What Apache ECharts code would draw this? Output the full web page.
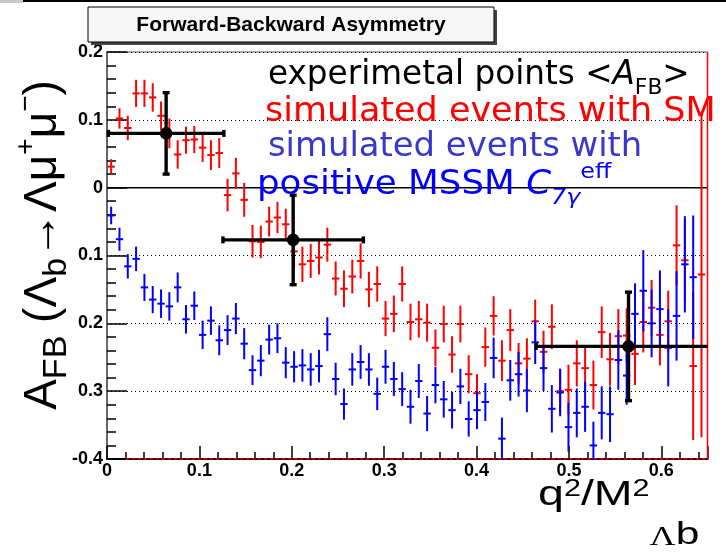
<!DOCTYPE html>
<html>
<head>
<meta charset="utf-8">
<script src="https://cdn.jsdelivr.net/npm/echarts@6/dist/echarts.min.js"></script>
<style>
  html, body { margin: 0; padding: 0; background: #fff; }
  #chart { width: 726px; height: 559px; }
</style>
</head>
<body>
<div id="chart"></div>
<script>
// Bin centres of q^2/M^2 (bin width 0.009)
const q2Bins = [
  0.0045, 0.0135, 0.0225, 0.0315, 0.0405, 0.0495, 0.0585, 0.0675, 0.0765, 0.0855,
  0.0945, 0.1035, 0.1125, 0.1215, 0.1305, 0.1395, 0.1485, 0.1575, 0.1665, 0.1755,
  0.1845, 0.1935, 0.2025, 0.2115, 0.2205, 0.2295, 0.2385, 0.2475, 0.2565, 0.2655,
  0.2745, 0.2835, 0.2925, 0.3015, 0.3105, 0.3195, 0.3285, 0.3375, 0.3465, 0.3555,
  0.3645, 0.3735, 0.3825, 0.3915, 0.4005, 0.4095, 0.4185, 0.4275, 0.4365, 0.4455,
  0.4545, 0.4635, 0.4725, 0.4815, 0.4905, 0.4995, 0.5085, 0.5175, 0.5265, 0.5355,
  0.5445, 0.5535, 0.5625, 0.5715, 0.5805, 0.5895, 0.5985, 0.6075, 0.6165, 0.6255,
  0.6345, 0.6435
];
const binHalfWidth = 0.004;

// Standard Model simulation: A_FB per bin and its error
const smValues = [
  0.031, 0.102, 0.088, 0.139, 0.139, 0.133, 0.106, 0.080, 0.049, 0.070,
  0.071, 0.059, 0.048, 0.051, -0.011, 0.021, -0.018, -0.079, -0.080, -0.050,
  -0.044, -0.054, -0.094, -0.113, -0.108, -0.103, -0.084, -0.134, -0.149, -0.131,
  -0.108, -0.150, -0.142, -0.193, -0.186, -0.142, -0.198, -0.194, -0.199, -0.236,
  -0.201, -0.246, -0.201, -0.275, -0.303, -0.235, -0.189, -0.255, -0.210, -0.259,
  -0.252, -0.197, -0.242, -0.205, -0.300, -0.298, -0.259, -0.266, -0.291, -0.213,
  -0.253, -0.219, -0.218, -0.245, -0.198, -0.177, -0.217, -0.197, -0.085, -0.107,
  -0.263, -0.128
];
const smErrors = [
  0.011, 0.015, 0.018, 0.020, 0.020, 0.021, 0.021, 0.022, 0.021, 0.020,
  0.020, 0.021, 0.022, 0.022, 0.024, 0.023, 0.025, 0.024, 0.024, 0.022,
  0.023, 0.023, 0.025, 0.026, 0.025, 0.025, 0.025, 0.025, 0.027, 0.025,
  0.026, 0.026, 0.026, 0.026, 0.027, 0.026, 0.027, 0.027, 0.028, 0.027,
  0.027, 0.027, 0.027, 0.028, 0.028, 0.029, 0.029, 0.030, 0.031, 0.030,
  0.030, 0.032, 0.031, 0.033, 0.033, 0.037, 0.034, 0.034, 0.036, 0.038,
  0.039, 0.040, 0.040, 0.046, 0.045, 0.041, 0.045, 0.045, 0.059, 0.060,
  0.109, 0.240
];

// MSSM simulation with positive C7gamma^eff: A_FB per bin and its error
const mssmValues = [
  -0.041, -0.076, -0.116, -0.105, -0.147, -0.165, -0.171, -0.175, -0.147, -0.194,
  -0.174, -0.217, -0.196, -0.225, -0.210, -0.193, -0.230, -0.269, -0.255, -0.224,
  -0.222, -0.258, -0.264, -0.262, -0.268, -0.263, -0.216, -0.282, -0.319, -0.268,
  -0.257, -0.268, -0.304, -0.264, -0.282, -0.297, -0.323, -0.285, -0.333, -0.291,
  -0.312, -0.328, -0.293, -0.341, -0.328, -0.316, -0.251, -0.370, -0.284, -0.275,
  -0.299, -0.228, -0.266, -0.326, -0.302, -0.353, -0.332, -0.323, -0.380, -0.332,
  -0.334, -0.254, -0.277, -0.186, -0.152, -0.200, -0.179, -0.236, -0.189, -0.113,
  -0.132, null
];
const mssmErrors = [
  0.013, 0.017, 0.018, 0.018, 0.020, 0.020, 0.021, 0.021, 0.022, 0.021,
  0.021, 0.021, 0.021, 0.022, 0.022, 0.023, 0.023, 0.022, 0.023, 0.022,
  0.022, 0.023, 0.023, 0.024, 0.024, 0.024, 0.025, 0.024, 0.023, 0.024,
  0.025, 0.024, 0.024, 0.025, 0.025, 0.025, 0.025, 0.025, 0.026, 0.027,
  0.027, 0.027, 0.026, 0.026, 0.028, 0.028, 0.030, 0.031, 0.030, 0.033,
  0.032, 0.032, 0.034, 0.035, 0.035, 0.036, 0.036, 0.037, 0.035, 0.039,
  0.041, 0.044, 0.043, 0.045, 0.060, 0.050, 0.057, 0.057, 0.066, 0.071,
  0.091, null
];

// Experimental points <A_FB> with bin half-widths and errors
const expX = [0.064, 0.2015, 0.5645];
const expXErr = [0.0625, 0.076, 0.100];
const expY = [0.080, -0.077, -0.234];
const expYErr = [0.060, 0.066, 0.080];

// Tick labels as printed on the axes
const xTickText = ['0', '0.1', '0.2', '0.3', '0.4', '0.5', '0.6'];
const yTickText = ['-0.4', '0.3', '0.2', '0.1', '0', '0.1', '0.2'];

const X_MIN = 0, X_MAX = 0.65, Y_MIN = -0.4, Y_MAX = 0.2;
const clampY = v => Math.max(Y_MIN, Math.min(Y_MAX, v));
const clampX = v => Math.max(X_MIN, Math.min(X_MAX, v));

function histErrorBars(color) {
  return function (params, api) {
    const x = api.value(0), y = api.value(1), e = api.value(2);
    if (y == null || isNaN(y)) return null;
    const top = api.coord([x, clampY(y + e)]);
    const bot = api.coord([x, clampY(y - e)]);
    const children = [{
      type: 'line',
      shape: { x1: top[0], y1: top[1], x2: bot[0], y2: bot[1] },
      style: { stroke: color, lineWidth: 2 }
    }];
    if (y >= Y_MIN && y <= Y_MAX) {
      const l = api.coord([x - binHalfWidth, y]);
      const r = api.coord([x + binHalfWidth, y]);
      children.push({
        type: 'line',
        shape: { x1: l[0], y1: l[1], x2: r[0], y2: r[1] },
        style: { stroke: color, lineWidth: 2 }
      });
    }
    return { type: 'group', children };
  };
}

function expPoints(params, api) {
  const x = api.value(0), y = api.value(1), ex = api.value(2), ey = api.value(3);
  const xl = x - ex, xr = x + ex;
  const c = api.coord([x, y]);
  const l = api.coord([clampX(xl), y]);
  const r = api.coord([clampX(xr), y]);
  const t = api.coord([x, clampY(y + ey)]);
  const b = api.coord([x, clampY(y - ey)]);
  const cap = 3.5, st = { stroke: '#000', lineWidth: 3.4 };
  const kids = [
    { type: 'line', shape: { x1: l[0], y1: l[1], x2: r[0], y2: r[1] }, style: st },
    { type: 'line', shape: { x1: t[0], y1: t[1], x2: b[0], y2: b[1] }, style: st },
    { type: 'line', shape: { x1: t[0] - cap, y1: t[1], x2: t[0] + cap, y2: t[1] }, style: st },
    { type: 'line', shape: { x1: b[0] - cap, y1: b[1], x2: b[0] + cap, y2: b[1] }, style: st },
    { type: 'circle', shape: { cx: c[0], cy: c[1], r: 6.3 }, style: { fill: '#000' } }
  ];
  if (xl >= X_MIN) kids.push({ type: 'line', shape: { x1: l[0], y1: l[1] - cap, x2: l[0], y2: l[1] + cap }, style: st });
  if (xr <= X_MAX) kids.push({ type: 'line', shape: { x1: r[0], y1: r[1] - cap, x2: r[0], y2: r[1] + cap }, style: st });
  return { type: 'group', children: kids };
}

const smData = q2Bins.map((x, i) => [x, smValues[i], smErrors[i]]);
const mssmData = q2Bins.map((x, i) => [x, mssmValues[i], mssmErrors[i]]);
const expData = expX.map((x, i) => [x, expY[i], expXErr[i], expYErr[i]]);

const legendFont = 'DejaVu Sans';
const legendRich = (color) => ({
  m: { fontFamily: legendFont, fontSize: 33, lineHeight: 48, verticalAlign: 'middle', fill: color },
  i: { fontFamily: legendFont, fontSize: 33, lineHeight: 48, verticalAlign: 'middle', fontStyle: 'italic', fill: color },
  sub: { fontFamily: legendFont, fontSize: 22, lineHeight: 22, verticalAlign: 'bottom', fill: color },
  subi: { fontFamily: legendFont, fontSize: 22, lineHeight: 22, verticalAlign: 'bottom', fontStyle: 'italic', fill: color },
  sup: { fontFamily: legendFont, fontSize: 22, lineHeight: 26, verticalAlign: 'top', fill: color }
});

const chart = echarts.init(document.getElementById('chart'), null, { renderer: 'canvas' });

chart.setOption({
  animation: false,
  backgroundColor: '#fff',
  grid: {
    left: 107, right: 18.5, top: 52, bottom: 100,
    show: true, borderColor: '#555', borderWidth: 1
  },
  xAxis: [{
    type: 'value', min: X_MIN, max: X_MAX, interval: 0.1, position: 'bottom',
    axisLine: { show: true, onZero: false, lineStyle: { color: '#000', width: 2 } },
    axisTick: { show: true, inside: true, length: 13, lineStyle: { color: '#000', width: 1.5 } },
    axisLabel: {
      formatter: v => { const k = Math.round(v * 10); return Math.abs(v * 10 - k) < 1e-6 && xTickText[k] !== undefined ? xTickText[k] : ''; },
      margin: 3, fontFamily: 'Liberation Sans', fontWeight: 'bold', fontSize: 18, color: '#000'
    },
    splitLine: { show: false }
  }, {
    type: 'value', min: X_MIN, max: X_MAX, interval: 0.02, position: 'bottom',
    axisLine: { show: false, onZero: false },
    axisTick: { show: true, inside: true, length: 7, lineStyle: { color: '#000', width: 1.5 } },
    axisLabel: { show: false },
    splitLine: { show: false }
  }],
  yAxis: {
    type: 'value', min: Y_MIN, max: Y_MAX, interval: 0.1,
    axisLine: { show: true, onZero: false, lineStyle: { color: '#666', width: 2 } },
    axisTick: { show: true, inside: true, length: 20, lineStyle: { color: '#000', width: 1.5 } },
    minorTick: { show: true, splitNumber: 5, length: 9, lineStyle: { color: '#000', width: 1.5 } },
    axisLabel: {
      formatter: v => yTickText[Math.round((v - Y_MIN) * 10)],
      margin: 4, fontFamily: 'Liberation Sans', fontWeight: 'bold', fontSize: 18, color: '#000'
    },
    splitLine: { show: true, lineStyle: { color: '#000', width: 1, type: [1, 3] } }
  },
  series: [
    {
      name: 'zero', type: 'line', xAxisIndex: 0, silent: true, symbol: 'none', z: 1,
      data: [[X_MIN, 0], [X_MAX, 0]], lineStyle: { color: '#000', width: 1.5 }
    },
    {
      name: 'underflow', type: 'line', xAxisIndex: 0, silent: true, symbol: 'none', z: 3,
      data: [[0.02, Y_MIN], [X_MAX, Y_MIN]], lineStyle: { color: '#ff0000', width: 1.5, type: [4, 2] }
    },
    {
      name: 'edge', type: 'line', xAxisIndex: 0, silent: true, symbol: 'none', z: 3,
      data: [[X_MAX, Y_MIN], [X_MAX, Y_MAX]], lineStyle: { color: '#ff0000', width: 1.5 }
    },
    {
      name: 'SM', type: 'custom', xAxisIndex: 0, z: 4,
      renderItem: histErrorBars('#ff0000'), encode: { x: 0, y: 1 }, data: smData
    },
    {
      name: 'MSSM', type: 'custom', xAxisIndex: 0, z: 5,
      renderItem: histErrorBars('#0000ff'), encode: { x: 0, y: 1 }, data: mssmData
    },
    {
      name: 'experiment', type: 'custom', xAxisIndex: 0, z: 6,
      renderItem: expPoints, encode: { x: 0, y: 1 }, data: expData
    }
  ],
  graphic: [
    { type: 'rect', left: 0, top: 0, shape: { width: 23, height: 3 }, style: { fill: '#c8c8c8' }, silent: true },
    { type: 'line', shape: { x1: 23, y1: 1, x2: 726, y2: 1 }, style: { stroke: '#000', lineWidth: 2 }, silent: true },
    // title box with drop shadow
    { type: 'rect', shape: { x: 91, y: 10, width: 406, height: 35 }, style: { fill: '#444' }, silent: true, z: 10 },
    { type: 'rect', shape: { x: 88, y: 7, width: 406, height: 35 }, style: { fill: '#f6f6f6', stroke: '#000', lineWidth: 1 }, silent: true, z: 11 },
    {
      type: 'text', x: 291, y: 25, z: 12, silent: true,
      style: { text: 'Forward-Backward Asymmetry', align: 'center', verticalAlign: 'middle',
        fontFamily: 'Liberation Sans', fontWeight: 'bold', fontSize: 21, fill: '#000' }
    },
    // legend text block
    {
      type: 'text', x: 268, y: 75, scaleX: 0.99, z: 12, silent: true,
      style: { text: '{m|experimetal points <}{i|A}{sub|FB}{m|>}', align: 'left', verticalAlign: 'middle', rich: legendRich('#000') }
    },
    {
      type: 'text', x: 265, y: 112, scaleX: 1.06, z: 12, silent: true,
      style: { text: '{m|simulated events with SM}', align: 'left', verticalAlign: 'middle', rich: legendRich('#ff0000') }
    },
    {
      type: 'text', x: 268, y: 147, scaleX: 1.025, z: 12, silent: true,
      style: { text: '{m|simulated events with}', align: 'left', verticalAlign: 'middle', rich: legendRich('#3838cc') }
    },
    {
      type: 'text', x: 257, y: 185, scaleX: 1.08, z: 12, silent: true,
      style: { text: '{m|positive MSSM }{i|C}{subi|7γ}{sup|eff}', align: 'left', verticalAlign: 'middle', rich: legendRich('#0000ff') }
    },
    // y axis title
    {
      type: 'text', x: 43, y: 245, rotation: Math.PI / 2, z: 12, silent: true,
      style: {
        text: '{m|A}{s|FB}{m| (Λ}{s|b}{m|→Λμ}{p|+}{m|μ}{p|−}{m|)}',
        align: 'center', verticalAlign: 'middle',
        rich: {
          m: { fontFamily: 'Liberation Sans', fontSize: 46, lineHeight: 62, verticalAlign: 'middle', fill: '#000' },
          s: { fontFamily: 'Liberation Sans', fontSize: 34, lineHeight: 34, verticalAlign: 'bottom', fill: '#000' },
          p: { fontFamily: 'Liberation Sans', fontSize: 28, lineHeight: 28, verticalAlign: 'top', fill: '#000' }
        }
      }
    },
    // x axis title
    {
      type: 'text', x: 538, y: 478, scaleX: 1.33, z: 12, silent: true,
      style: {
        text: '{m|q}{p|2}{m|/M}{p|2}{sl|Λ}{s|b}{z| }',
        align: 'left', verticalAlign: 'top',
        rich: {
          m: { fontFamily: 'Liberation Sans', fontSize: 35, lineHeight: 40, verticalAlign: 'top', fill: '#000' },
          p: { fontFamily: 'Liberation Sans', fontSize: 23, lineHeight: 22, verticalAlign: 'top', fill: '#000' },
          sl: { fontFamily: 'Liberation Serif', fontSize: 27, lineHeight: 35, verticalAlign: 'bottom', fill: '#000' },
          s: { fontFamily: 'Liberation Sans', fontSize: 32, lineHeight: 32, verticalAlign: 'bottom', fill: '#000' },
          z: { fontSize: 1, lineHeight: 73, verticalAlign: 'top' }
        }
      }
    }
  ]
});
</script>
</body>
</html>
